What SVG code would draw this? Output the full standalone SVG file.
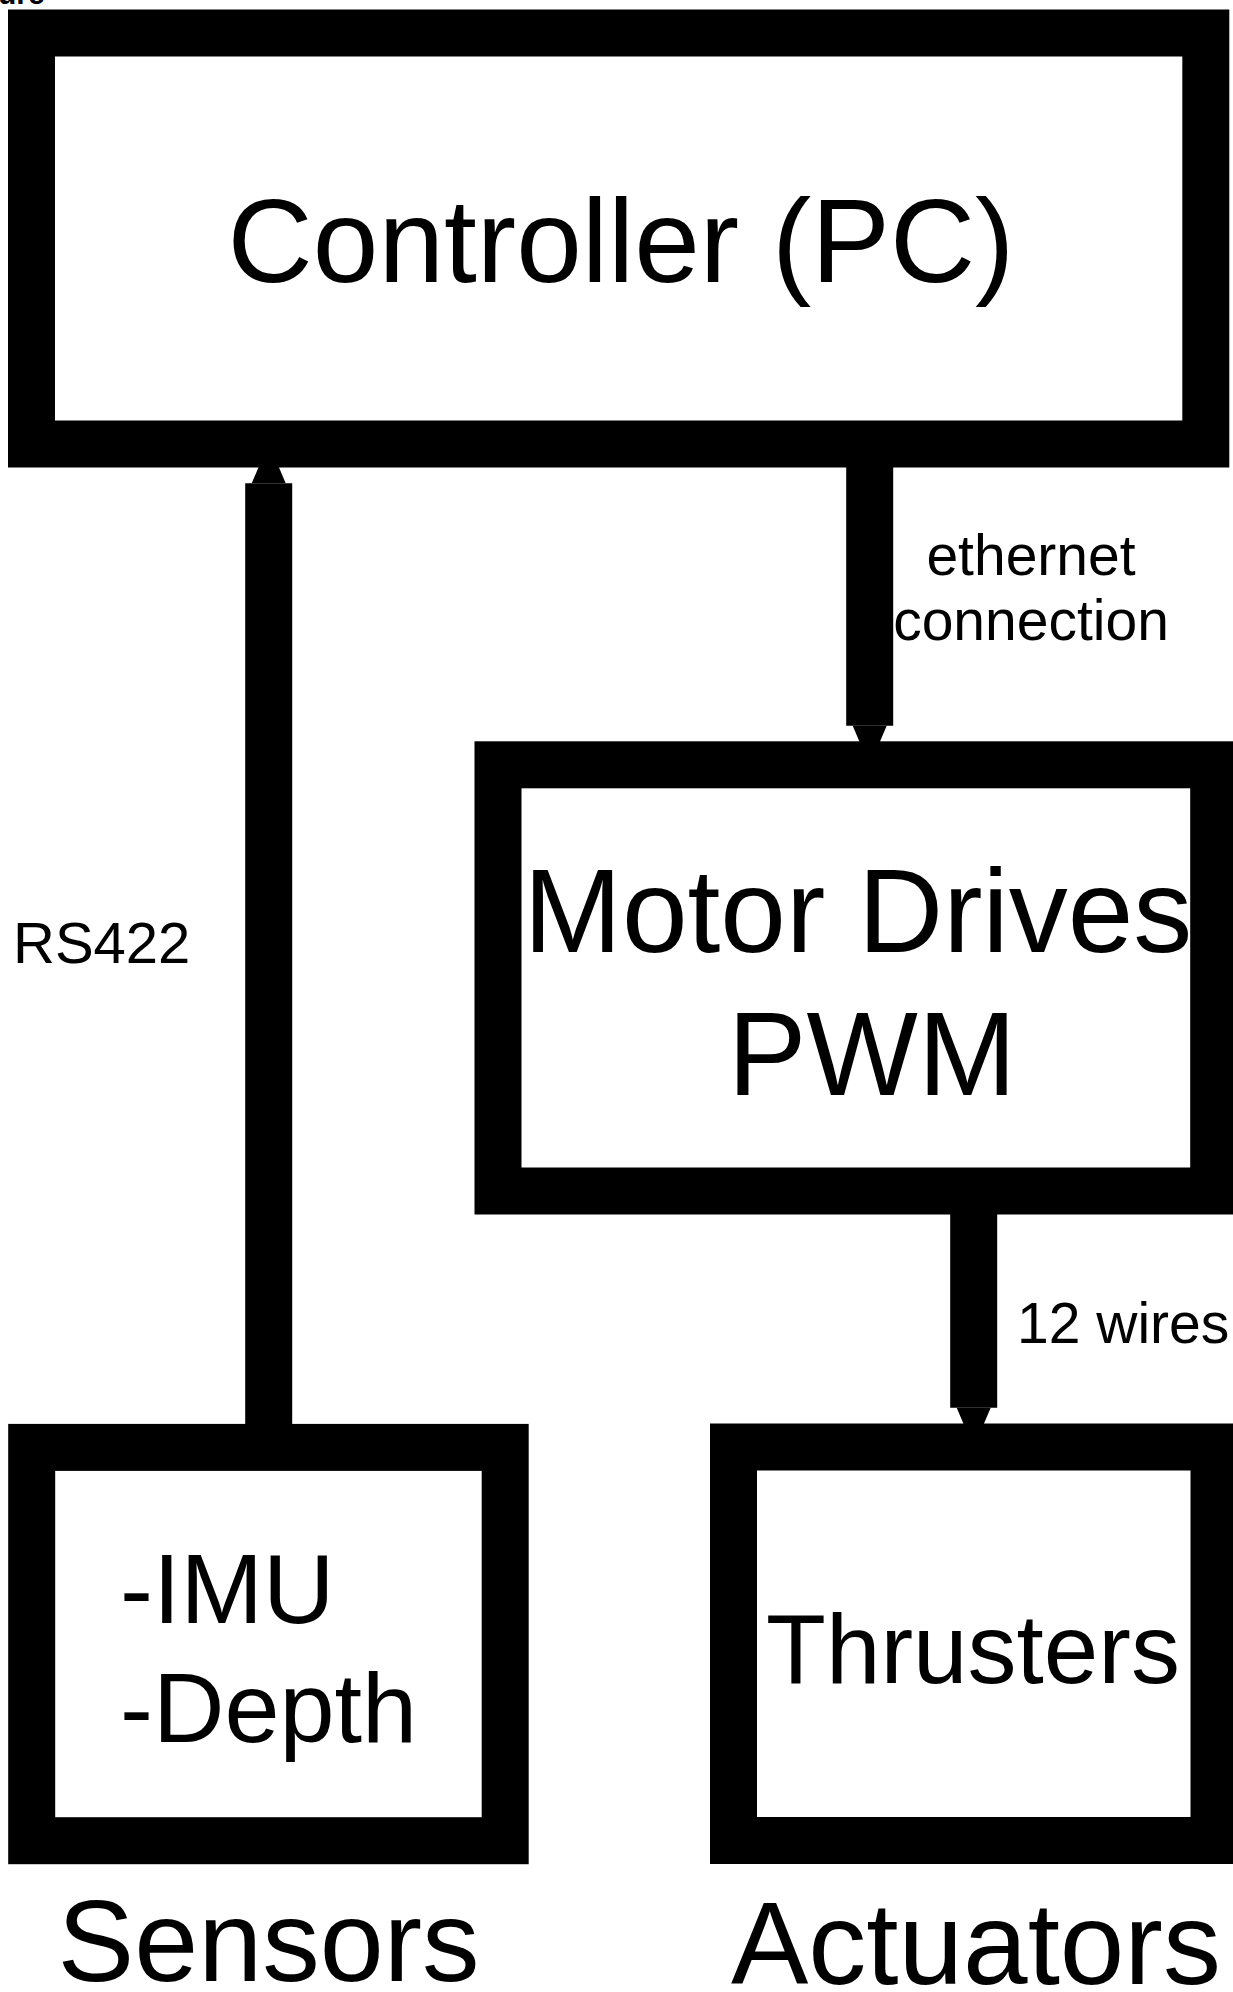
<svg xmlns="http://www.w3.org/2000/svg" width="1233" height="1992" viewBox="0 0 1233 1992">
<style>
.box{fill:#fff;stroke:#000;stroke-width:47}
.conn{stroke:#000;stroke-width:47;fill:none;marker-end:url(#ah)}
.t{font-family:"Liberation Sans",Arial,sans-serif;fill:#000}
.big{font-size:118px;text-anchor:middle}
.mid{font-size:99px}
.lbl{font-size:57px}
</style>
<defs>
<marker id="ah" markerUnits="userSpaceOnUse" markerWidth="42" markerHeight="34" refX="0" refY="17" orient="auto" overflow="visible">
<path d="M0,0 L40,17 L0,34 Z" fill="#000"/>
</marker>
</defs>
<rect width="1233" height="1992" fill="#fff"/>
<text class="t" x="-2" y="4" font-size="30" font-weight="bold">ure</text>
<g id="connectors">
<line class="conn" x1="268.7" y1="1447" x2="268.7" y2="483.3"/>
<line class="conn" x1="869.7" y1="467" x2="869.7" y2="725.7"/>
<line class="conn" x1="973.7" y1="1214" x2="973.7" y2="1407.7"/>
</g>
<g id="controller">
<rect class="box" x="31.5" y="33" width="1174.3" height="411"/>
<text class="t big" x="621" y="282">Controller (PC)</text>
</g>
<g id="motor-drives">
<rect class="box" x="498" y="764.8" width="715.7" height="426.2"/>
<text class="t big" x="858" y="952">Motor Drives</text>
<text class="t big" x="872" y="1095">PWM</text>
</g>
<g id="sensors">
<rect class="box" x="31.7" y="1447.4" width="473.5" height="393.3"/>
<text class="t mid" x="120" y="1623">-IMU</text>
<text class="t mid" x="120" y="1742">-Depth</text>
</g>
<g id="actuators">
<rect class="box" x="733.5" y="1447" width="480.5" height="393.5"/>
<text class="t" x="973" y="1683" font-size="98" text-anchor="middle">Thrusters</text>
</g>
<g id="labels">
<text class="t lbl" x="1031" y="575" text-anchor="middle">ethernet</text>
<text class="t lbl" x="1031" y="640" text-anchor="middle">connection</text>
<text class="t" x="13" y="963" font-size="58">RS422</text>
<text class="t lbl" x="1017" y="1343">12 wires</text>
<text class="t" x="268.5" y="1981" font-size="115" text-anchor="middle">Sensors</text>
<text class="t" x="976" y="1984" font-size="116" text-anchor="middle">Actuators</text>
</g>
</svg>
